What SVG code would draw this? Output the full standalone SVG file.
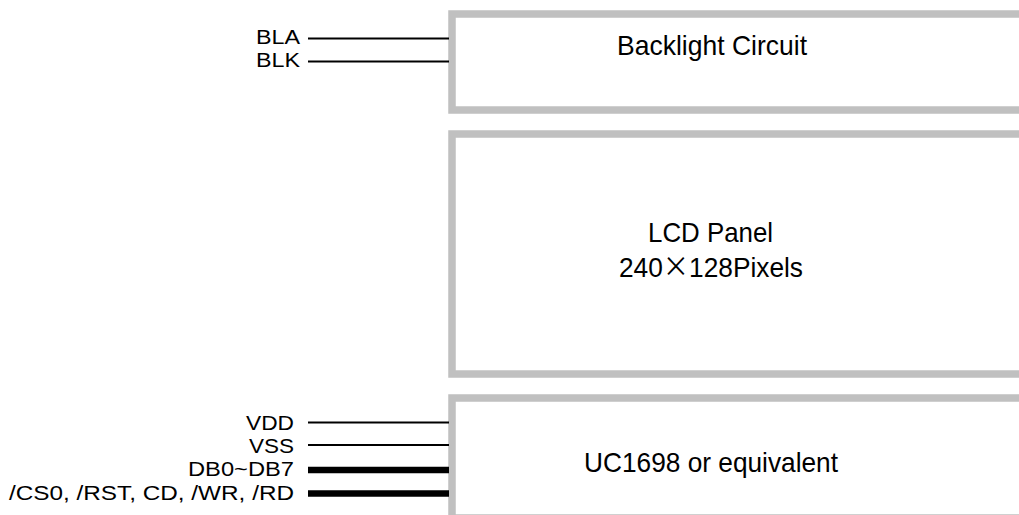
<svg xmlns="http://www.w3.org/2000/svg" width="1019" height="515" viewBox="0 0 1019 515">
<style>
.box{fill:#ffffff;stroke:#c0c0c0;stroke-width:7.5}
.t{font-family:"Liberation Sans",Arial,sans-serif;fill:#000}
.big{font-size:28px;text-anchor:middle}
.lbl{font-size:20.5px;text-anchor:end}
.w{stroke:#000;stroke-width:2;fill:none}
.bus{stroke:#000;stroke-width:6.5;fill:none}
</style>
<rect width="1019" height="515" fill="#fff"/>
<g id="backlight">
<rect class="box" x="452" y="14" width="600" height="96"/>
<text class="t big" x="712" y="55" textLength="190" lengthAdjust="spacingAndGlyphs">Backlight Circuit</text>
</g>
<g id="lcd">
<rect class="box" x="452" y="134" width="600" height="240"/>
<text class="t big" x="710.5" y="242" textLength="125" lengthAdjust="spacingAndGlyphs">LCD Panel</text>
<text class="t big" x="711" y="277" textLength="184" lengthAdjust="spacingAndGlyphs">240<tspan font-family="'Noto Sans CJK JP',sans-serif">×</tspan>128Pixels</text>
</g>
<g id="controller">
<rect class="box" x="452" y="398" width="600" height="120"/>
<text class="t big" x="711" y="472" textLength="254" lengthAdjust="spacingAndGlyphs">UC1698 or equivalent</text>
</g>
<g id="labels">
<text class="t lbl" x="300" y="44" textLength="44" lengthAdjust="spacingAndGlyphs">BLA</text>
<text class="t lbl" x="300" y="67" textLength="44" lengthAdjust="spacingAndGlyphs">BLK</text>
<text class="t lbl" x="294" y="429.5" textLength="48" lengthAdjust="spacingAndGlyphs">VDD</text>
<text class="t lbl" x="294" y="452.5" textLength="45" lengthAdjust="spacingAndGlyphs">VSS</text>
<text class="t lbl" x="294" y="476" textLength="106" lengthAdjust="spacingAndGlyphs">DB0~DB7</text>
<text class="t lbl" x="294" y="499.5" textLength="285" lengthAdjust="spacingAndGlyphs">/CS0, /RST, CD, /WR, /RD</text>
</g>
<g id="connectors">
<line class="w" x1="308" y1="38.5" x2="449" y2="38.5"/>
<line class="w" x1="308" y1="61.5" x2="449" y2="61.5"/>
<line class="w" x1="308" y1="422.5" x2="449" y2="422.5"/>
<line class="w" x1="308" y1="445" x2="449" y2="445"/>
<line class="bus" x1="308" y1="470" x2="449" y2="470"/>
<line class="bus" x1="308" y1="493.5" x2="449" y2="493.5"/>
</g>
</svg>
